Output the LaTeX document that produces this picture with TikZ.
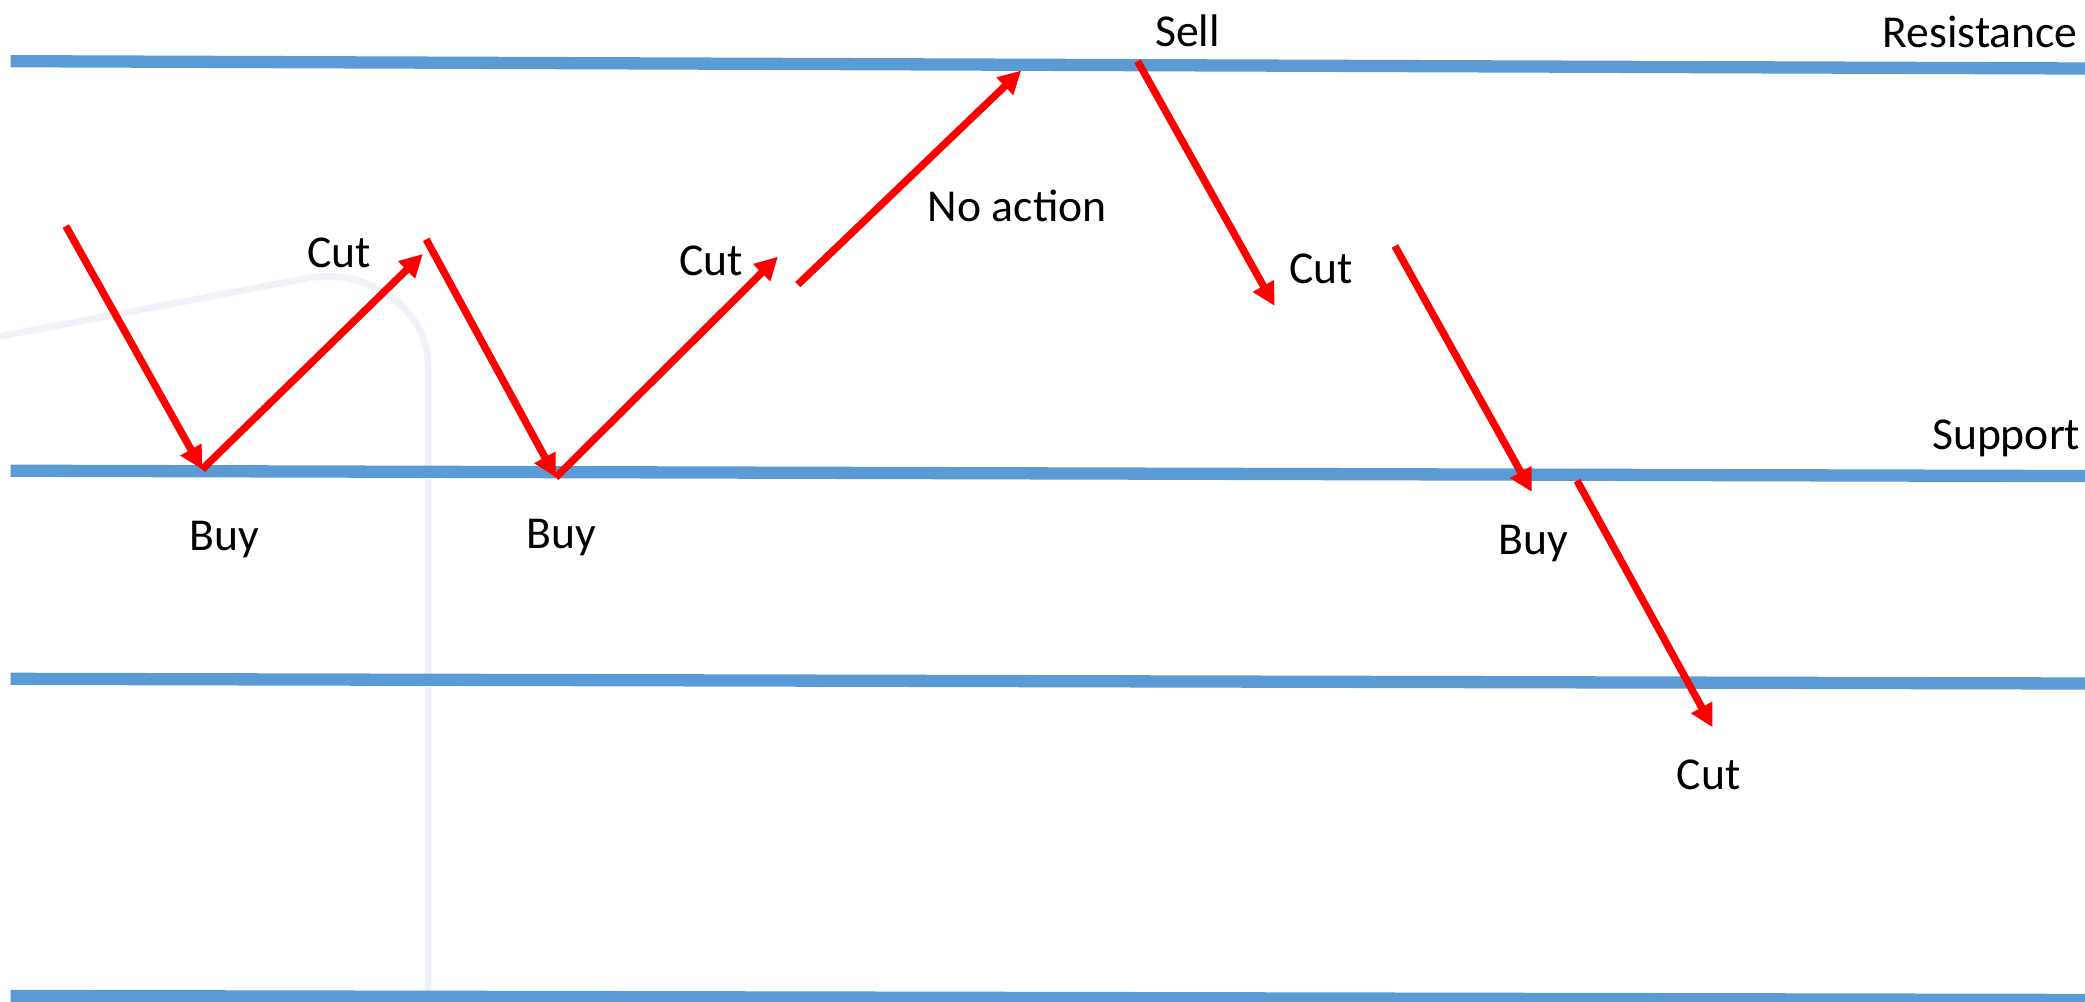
\documentclass[tikz,border=0pt]{standalone}
\usepackage{fontspec}
\setmainfont{Carlito}
\usetikzlibrary{arrows.meta}
\definecolor{lineblue}{HTML}{5B9BD5}
\definecolor{faintgrey}{HTML}{EFF3F8}
\begin{document}
\begin{tikzpicture}[x=0.0133cm, y=-0.0133cm,
    level/.style={lineblue, line width=3.5pt},
    every node/.style={font=\fontsize{13}{15}\selectfont, inner sep=0pt}]
      \useasboundingbox (0,0) rectangle (1568,753.5);
      \draw[faintgrey, line width=2pt]
        (0,253) -- (232,209) to[out=11, in=90] (322,275) -- (322,760);
      \draw
        (8,46) coordinate (resL)
        (1568,51.5) coordinate (resR)
        (8,354) coordinate (supL)
        (1568,358) coordinate (supR)
        (8,510.5) coordinate (lowL)
        (1568,514) coordinate (lowR)
        (8,749) coordinate (botL)
        (1568,752) coordinate (botR);
      \draw
        (49.5,170) coordinate (start)
        (152,353) coordinate (buy1)
        (318,191) coordinate (cut1)
        (320.5,180) coordinate (drop1)
        (418,359) coordinate (buy2)
        (585,193) coordinate (cut2)
        (600,214) coordinate (rise)
        (768,53) coordinate (top)
        (855.5,46) coordinate (sell)
        (958.5,230) coordinate (cut3)
        (1049,185) coordinate (drop2)
        (1152,370) coordinate (buy3)
        (1186,361.5) coordinate (drop3)
        (1288,547) coordinate (cut4);
      \draw
        (1563,24) node[anchor=east] (resistance){Resistance}
        (1565,330) node[anchor=east] (support){Support}
        (893,23) node (sellT){Sell}
        (255,190) node (cutT1){Cut}
        (169,406) node (buyT1){Buy}
        (422,404.5) node (buyT2){Buy}
        (535,196) node (cutT2){Cut}
        (765,155) node (noaction){No action}
        (993.5,202.5) node (cutT3){Cut}
        (1153,409) node (buyT3){Buy}
        (1285,583) node (cutT4){Cut};
      \begin{scope}[level]
        \draw (resL) to (resR);
        \draw (supL) to (supR);
        \draw (lowL) to (lowR);
        \draw (botL) to (botR);
      \end{scope}
      \begin{scope}[red, line width=2.1pt, -{Triangle[length=6.5pt,width=6.5pt]}]
        \draw (start) to (buy1);
        \draw (buy1) to (cut1);
        \draw (drop1) to (buy2);
        \draw (buy2) to (cut2);
        \draw (rise) to (top);
        \draw (sell) to (cut3);
        \draw (drop2) to (buy3);
        \draw (drop3) to (cut4);
      \end{scope}
    \end{tikzpicture}
\end{document}
